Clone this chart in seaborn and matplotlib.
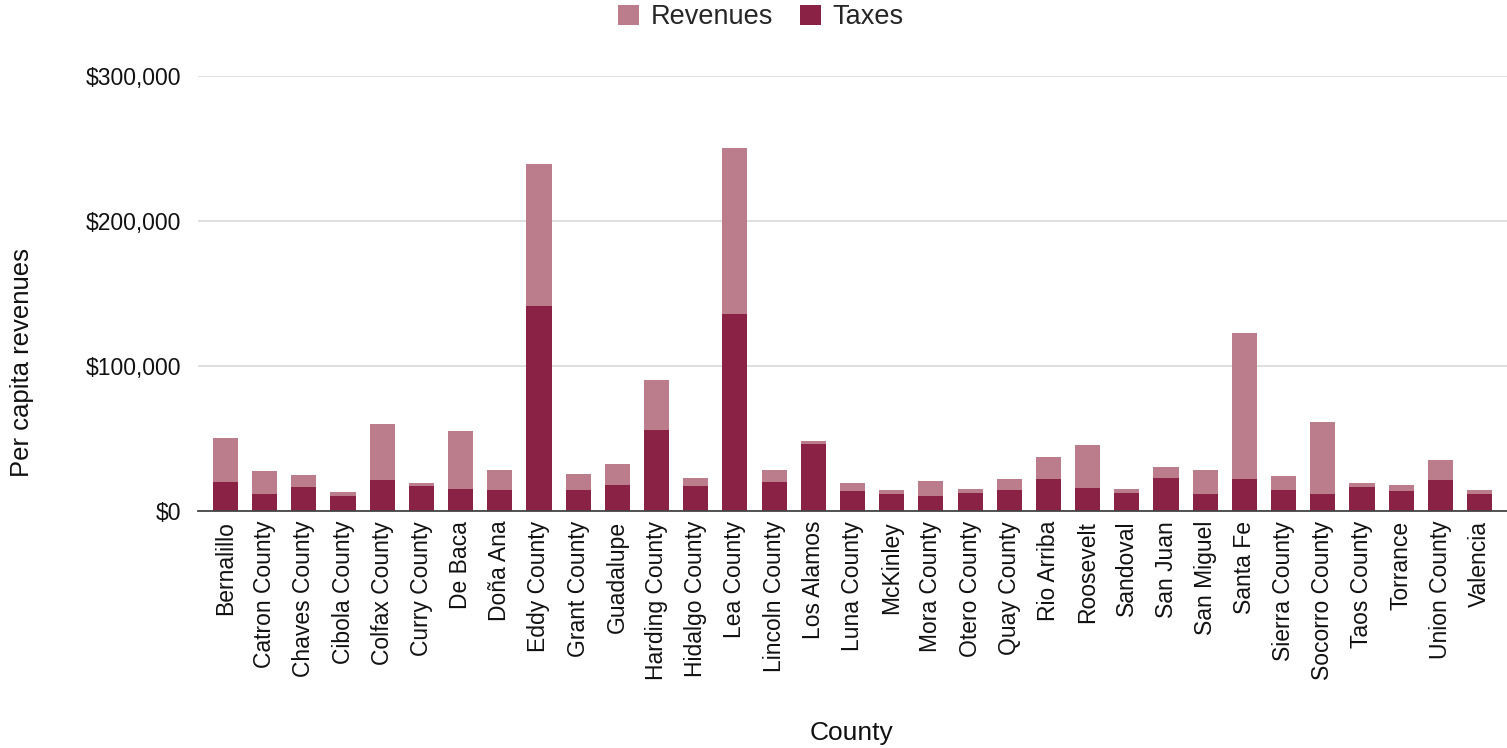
import matplotlib
matplotlib.use("Agg")
import matplotlib.pyplot as plt
from matplotlib.patches import Patch
from matplotlib.ticker import FuncFormatter
import pandas as pd
import seaborn as sns

counties = [
    "Bernalillo", "Catron County", "Chaves County", "Cibola County", "Colfax County",
    "Curry County", "De Baca", "Doña Ana", "Eddy County", "Grant County", "Guadalupe",
    "Harding County", "Hidalgo County", "Lea County", "Lincoln County", "Los Alamos",
    "Luna County", "McKinley", "Mora County", "Otero County", "Quay County", "Rio Arriba",
    "Roosevelt", "Sandoval", "San Juan", "San Miguel", "Santa Fe", "Sierra County",
    "Socorro County", "Taos County", "Torrance", "Union County", "Valencia",
]

# Per capita taxes (lower segment)
taxes = [
    20200, 11500, 16300, 10600, 21200, 17200, 15400, 14500, 141600, 14500, 18200,
    56100, 17200, 135900, 20000, 46400, 13600, 11500, 10600, 12400, 14500, 21800,
    16100, 12400, 23000, 11500, 21800, 14500, 11500, 16300, 13600, 21200, 11500,
]

# Per capita other revenues (upper segment, stacked on taxes)
revenues = [
    29900, 16100, 8300, 2700, 38600, 1900, 39600, 14000, 97600, 11200, 14200,
    34200, 5600, 114400, 8500, 1900, 5500, 3000, 10300, 3000, 7300, 15200,
    29400, 2800, 7600, 17000, 101200, 9400, 50100, 2800, 4500, 14000, 3000,
]

LIGHT = "#bb7d8c"
DARK = "#8a2246"

df = pd.DataFrame({"County": counties, "Taxes": taxes, "Revenues": revenues})
df["Total"] = df["Taxes"] + df["Revenues"]

sns.set_theme(style="white")
plt.rcParams["font.family"] = ["Liberation Sans", "DejaVu Sans"]

fig = plt.figure(figsize=(15.07, 7.48), dpi=100)
ax = fig.add_axes([198 / 1507, 0.3168, 1309 / 1507, 0.5816])

bar_kw = dict(saturation=1, width=0.64, linewidth=0, edgecolor="none", ax=ax, zorder=3)
sns.barplot(data=df, x="County", y="Total", color=LIGHT, **bar_kw)
sns.barplot(data=df, x="County", y="Taxes", color=DARK, **bar_kw)

ax.set_ylim(0, 300000)
ax.set_xlim(-0.70, len(counties) - 0.30)
ax.set_yticks([0, 100000, 200000, 300000])
ax.yaxis.set_major_formatter(FuncFormatter(lambda v, p: f"${v:,.0f}"))
ax.grid(axis="y", color="#d6d6d6", linewidth=1.1, zorder=0)
ax.set_axisbelow(True)

for side in ["top", "right", "left"]:
    ax.spines[side].set_visible(False)
ax.spines["bottom"].set_color("#444444")
ax.spines["bottom"].set_linewidth(1.3)
ax.spines["bottom"].set_zorder(4)

ax.tick_params(axis="y", length=0, pad=12, labelsize=16.5, labelcolor="#111111")
ax.tick_params(axis="x", length=0, pad=7, labelsize=16.5, labelcolor="#111111")
plt.setp(ax.get_xticklabels(), rotation=90, ha="center", va="top")

ax.set_xlabel("")
ax.set_ylabel("")
fig.text(0.0146, 0.515, "Per capita revenues", rotation=90, ha="center", va="center",
         fontsize=18.5, color="#111111")
fig.text(0.565, 0.02, "County", ha="center", va="center", fontsize=19, color="#111111")

handles = [Patch(facecolor=LIGHT, edgecolor="none", label="Revenues"),
           Patch(facecolor=DARK, edgecolor="none", label="Taxes")]
fig.legend(handles=handles, loc="center", bbox_to_anchor=(0.505, 0.977), ncol=2,
           frameon=False, fontsize=19.5, handlelength=0.75, handleheight=0.75,
           handletextpad=0.45, columnspacing=1.0)

fig.savefig("out.png", dpi=100, facecolor="white")
